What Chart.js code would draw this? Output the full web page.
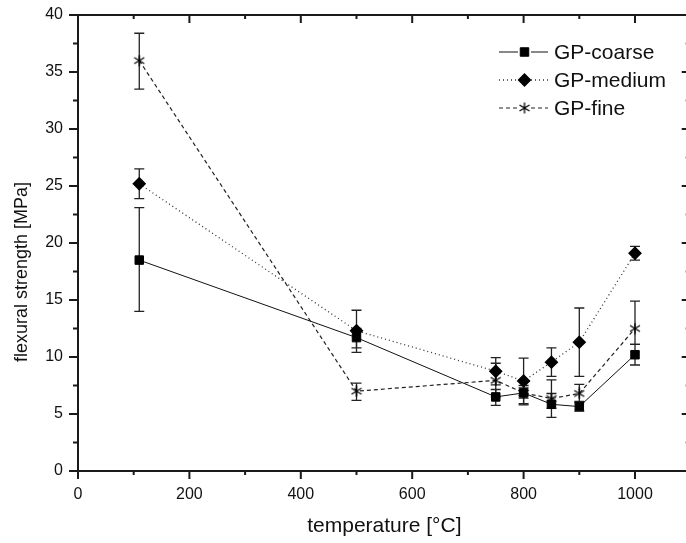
<!DOCTYPE html>
<html>
<head>
<meta charset="utf-8">
<script src="https://cdn.jsdelivr.net/npm/chart.js@4/dist/chart.umd.min.js"></script>
<style>
body { margin: 0; background: #fff; }
#wrap { width: 686px; height: 543px; overflow: hidden; }
#box { width: 698px; height: 543px; }
</style>
</head>
<body>
<div id="wrap"><div id="box"><canvas id="flexChart"></canvas></div></div>
<script>
// data
var temperatures = [110, 500, 750, 800, 850, 900, 1000];

var coarse   = [18.5, 11.7, 6.5, 6.85, 5.85, 5.65, 10.2];
var coarseHi = [23.1, 12.5, 7.15, 7.5, 6.8, 6.1, 11.1];
var coarseLo = [14.0, 10.8, 5.76, 5.8, 4.7, 5.25, 9.3];

var medium   = [25.2, 12.3, 8.75, 7.9, 9.55, 11.3, 19.1];
var mediumHi = [26.5, 14.1, 9.95, 9.9, 10.8, 14.3, 19.7];
var mediumLo = [23.9, 10.4, 7.55, 5.9, 8.3, 8.3, 18.5];

var fine   = [36.0, 7.0, 7.95, 6.85, 6.35, 6.8, 12.5];
var fineHi = [38.4, 7.7, 9.45, 7.3, 8.0, 7.6, 14.9];
var fineLo = [33.5, 6.2, 6.5, 6.4, 5.5, 6.0, 11.1];

var seriesNames = ['GP-coarse', 'GP-medium', 'GP-fine'];
var xTicks = [0, 200, 400, 600, 800, 1000];
var yTicks = [0, 5, 10, 15, 20, 25, 30, 35, 40];

var FONT = 'Liberation Sans, Arial, sans-serif';

// six point asterisk for GP-fine
function makeStar() {
    var c = document.createElement('canvas');
    c.width = 12; c.height = 12;
    var g = c.getContext('2d');
    g.strokeStyle = '#000';
    g.lineWidth = 1.3;
    g.beginPath();
    g.moveTo(6, 0.5); g.lineTo(6, 11.5);
    g.moveTo(1, 3); g.lineTo(11, 9);
    g.moveTo(1, 9); g.lineTo(11, 3);
    g.stroke();
    return c;
}
var star = makeStar();

function pts(vals) {
    return temperatures.map(function(t, i) { return { x: t, y: vals[i] }; });
}

var errSets = [
    { hi: coarseHi, lo: coarseLo },
    { hi: mediumHi, lo: mediumLo },
    { hi: fineHi, lo: fineLo }
];

var errorBars = {
    id: 'errorBars',
    beforeDatasetsDraw: function(chart) {
        var ctx = chart.ctx, xs = chart.scales.x, ys = chart.scales.y;
        ctx.save();
        ctx.strokeStyle = '#222';
        ctx.lineWidth = 1.3;
        errSets.forEach(function(e) {
            for (var i = 0; i < temperatures.length; i++) {
                var x = xs.getPixelForValue(temperatures[i]);
                var yh = ys.getPixelForValue(e.hi[i]);
                var yl = ys.getPixelForValue(e.lo[i]);
                ctx.beginPath();
                ctx.moveTo(x, yh); ctx.lineTo(x, yl);
                ctx.moveTo(x - 5, yh); ctx.lineTo(x + 5, yh);
                ctx.moveTo(x - 5, yl); ctx.lineTo(x + 5, yl);
                ctx.stroke();
            }
        });
        ctx.restore();
    }
};

// box axes with major/minor ticks, y title and the legend
var frame = {
    id: 'frame',
    afterDraw: function(chart) {
        var ctx = chart.ctx, xs = chart.scales.x, ys = chart.scales.y;
        var a = chart.chartArea;
        ctx.save();
        ctx.strokeStyle = '#1a1a1a';
        ctx.lineWidth = 2;
        ctx.beginPath();
        ctx.moveTo(a.left, a.top); ctx.lineTo(a.left, a.bottom);
        ctx.moveTo(a.left - 1, a.bottom); ctx.lineTo(a.right, a.bottom);
        ctx.moveTo(a.left - 1, a.top); ctx.lineTo(a.right, a.top);
        ctx.moveTo(a.right, a.top); ctx.lineTo(a.right, a.bottom);
        for (var v = 0; v <= 1100; v += 100) {
            var x = xs.getPixelForValue(v);
            var len = v % 200 === 0 ? 8 : 4;
            ctx.moveTo(x, a.bottom); ctx.lineTo(x, a.bottom + len);
            ctx.moveTo(x, a.top); ctx.lineTo(x, a.top + len);
        }
        for (var w = 0; w <= 40; w += 2.5) {
            var y = ys.getPixelForValue(w);
            var l2 = w % 5 === 0 ? 9 : 5;
            ctx.moveTo(a.left, y); ctx.lineTo(a.left - l2, y);
            ctx.moveTo(a.right, y); ctx.lineTo(a.right - l2, y);
        }
        ctx.stroke();

        // y axis title
        ctx.fillStyle = '#111';
        ctx.font = '18px ' + FONT;
        ctx.textAlign = 'center';
        ctx.textBaseline = 'middle';
        ctx.translate(22, 272);
        ctx.rotate(-Math.PI / 2);
        ctx.fillText('flexural strength [MPa]', 0, 0);
        ctx.restore();

        // legend
        ctx.save();
        ctx.font = '21px ' + FONT;
        ctx.textAlign = 'left';
        ctx.textBaseline = 'middle';
        chart.data.datasets.forEach(function(ds, i) {
            var ly = 52 + i * 28;
            ctx.strokeStyle = ds.borderColor;
            ctx.lineWidth = ds.borderWidth;
            ctx.setLineDash(ds.borderDash || []);
            ctx.beginPath();
            ctx.moveTo(499, ly); ctx.lineTo(518, ly);
            ctx.moveTo(531, ly); ctx.lineTo(548, ly);
            ctx.stroke();
            ctx.setLineDash([]);
            ctx.fillStyle = '#000';
            ctx.strokeStyle = '#000';
            Chart.helpers.drawPoint(ctx, {
                pointStyle: ds.pointStyle,
                radius: ds.pointRadius,
                rotation: 0,
                borderWidth: 1
            }, 524.5, ly);
            ctx.fillStyle = '#111';
            ctx.fillText(seriesNames[i], 554, ly + 1);
        });
        ctx.restore();
    }
};

var ctx = document.getElementById('flexChart').getContext('2d');
var flexChart = new Chart(ctx, {
    type: 'line',
    data: {
        datasets: [{
            label: seriesNames[0],
            data: pts(coarse),
            borderColor: '#111',
            borderWidth: 1,
            pointStyle: 'rect',
            pointRadius: 6,
            pointBackgroundColor: '#000',
            pointBorderColor: '#000'
        }, {
            label: seriesNames[1],
            data: pts(medium),
            borderColor: '#333',
            borderWidth: 1.3,
            borderDash: [1, 3],
            pointStyle: 'rectRot',
            pointRadius: 6,
            pointBackgroundColor: '#000',
            pointBorderColor: '#000'
        }, {
            label: seriesNames[2],
            data: pts(fine),
            borderColor: '#222',
            borderWidth: 1.2,
            borderDash: [4, 3],
            pointStyle: star,
            pointRadius: 5,
            pointBackgroundColor: '#000',
            pointBorderColor: '#000'
        }]
    },
    options: {
        responsive: true,
        maintainAspectRatio: false,
        devicePixelRatio: 1,
        animation: false,
        layout: { padding: { top: 15, right: 2, left: 0, bottom: 0 } },
        plugins: {
            legend: { display: false },
            tooltip: { enabled: false }
        },
        scales: {
            x: {
                type: 'linear',
                min: 0,
                max: 1100,
                afterBuildTicks: function(s) { s.ticks = xTicks.map(function(v) { return { value: v }; }); },
                afterFit: function(s) { s.height = 72; },
                grid: { display: false, drawTicks: false },
                border: { display: false },
                ticks: {
                    color: '#111', padding: 14, maxRotation: 0,
                    font: { family: FONT, size: 16 },
                    callback: function(v) { return String(v); }
                },
                title: {
                    display: true,
                    text: 'temperature [°C]',
                    color: '#111',
                    font: { family: FONT, size: 21 },
                    padding: { top: 0, bottom: 4 }
                }
            },
            y: {
                min: 0,
                max: 40,
                afterBuildTicks: function(s) { s.ticks = yTicks.map(function(v) { return { value: v }; }); },
                afterFit: function(s) { s.width = 78; s.paddingTop = 0; s.paddingBottom = 0; },
                grid: { display: false, drawTicks: false },
                border: { display: false },
                ticks: {
                    color: '#111', padding: 15,
                    font: { family: FONT, size: 16 },
                    callback: function(v) { return String(v); }
                }
            }
        }
    },
    plugins: [errorBars, frame]
});
</script>
</body>
</html>
